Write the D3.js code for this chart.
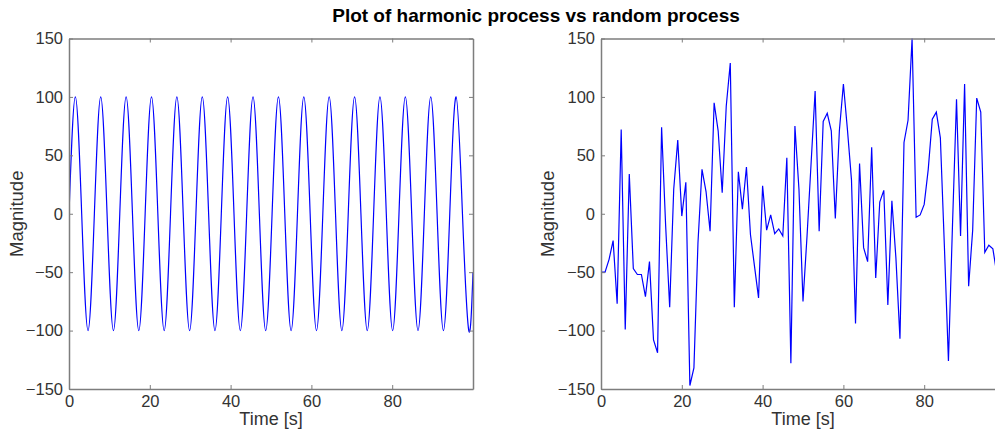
<!DOCTYPE html>
<html>
<head>
<meta charset="utf-8">
<script src="https://cdn.jsdelivr.net/npm/d3@7"></script>
<style>
body { margin:0; background:#fff; }
text { font-family: "Liberation Sans", Arial, Helvetica, sans-serif; }
.axis path, .axis line { stroke:#7d7d7d; }
.axis text { fill:#333; font-size:16.5px; }
</style>
</head>
<body>
<div id="chart"></div>
<script>
// harmonic process: zero crossings and peaks
var harmonicTime = [0, 1.57, 3.14, 4.71, 6.28, 7.85, 9.42, 11.0, 12.57, 14.14, 15.71, 17.28,
	18.85, 20.42, 21.99, 23.56, 25.13, 26.7, 28.27, 29.85, 31.42, 32.99, 34.56, 36.13,
	37.7, 39.27, 40.84, 42.41, 43.98, 45.55, 47.12, 48.69, 50.27, 51.84, 53.41, 54.98,
	56.55, 58.12, 59.69, 61.26, 62.83, 64.4, 65.97, 67.54, 69.12, 70.69, 72.26, 73.83,
	75.4, 76.97, 78.54, 80.11, 81.68, 83.25, 84.82, 86.39, 87.96, 89.54, 91.11, 92.68,
	94.25, 95.82, 97.39, 98.96, 100];
var harmonicValue = [0, 100, 0, -100, 0, 100, 0, -100, 0, 100, 0, -100,
	0, 100, 0, -100, 0, 100, 0, -100, 0, 100, 0, -100,
	0, 100, 0, -100, 0, 100, 0, -100, 0, 100, 0, -100,
	0, 100, 0, -100, 0, 100, 0, -100, 0, 100, 0, -100,
	0, 100, 0, -100, 0, 100, 0, -100, 0, 100, 0, -100,
	0, 100, 0, -100, -50];

// random process, one sample per second
var randomValue = [-50, -50, -39, -23, -77, 72, -99, 34, -47, -52,
	-52, -71, -41, -108, -119, 74, -10, -80, 21, 63,
	-2, 27, -147, -132, -25, 38, 19, -15, 95, 71,
	18, 92, 129, -80, 36, 4, 40, -18, -45, -72,
	24, -14, -1, -17, -13, -19, 48, -128, 75, 21,
	-75, -19, 43, 105, -15, 79, 86, 71, -4, 71,
	111, 72, 29, -94, 43, -29, -41, 57, -55, 10,
	20, -78, 11, -38, -107, 61, 80, 150, -3, -1,
	8, 38, 81, 87, 65, -28, -126, -10, 98, -19,
	111, -62, -14, 99, 87, -33, -27, -30, -52, -65];

var xTicks = [0, 20, 40, 60, 80];
var yTicks = [-150, -100, -50, 0, 50, 100, 150];

var width = 995, height = 435;
var top_ = 38.5, bottom = 389;

var svg = d3.select("#chart").append("svg")
	.attr("width", width)
	.attr("height", height);

svg.append("text")
	.attr("x", 536)
	.attr("y", 22)
	.attr("text-anchor", "middle")
	.style("font-size", "19px")
	.style("font-weight", "bold")
	.attr("fill", "#000")
	.text("Plot of harmonic process vs random process");

var y = d3.scaleLinear().domain([-150, 150]).range([bottom, top_]);

function panel(left, right, pts, curve, clipId, labelX) {
	var x = d3.scaleLinear().domain([0, 100]).range([left, right]);

	svg.append("clipPath").attr("id", clipId)
		.append("rect")
		.attr("x", left).attr("y", top_ - 1)
		.attr("width", right - left).attr("height", bottom - top_ + 2);

	var line = d3.line()
		.x(function(d){ return x(d[0]); })
		.y(function(d){ return y(d[1]); })
		.curve(curve);

	svg.append("path")
		.datum(pts)
		.attr("clip-path", "url(#" + clipId + ")")
		.attr("fill", "none")
		.attr("stroke", "#0000ff")
		.attr("stroke-width", 1.2)
		.attr("d", line);

	svg.append("g").attr("class", "axis")
		.attr("transform", "translate(0," + bottom + ")")
		.call(d3.axisBottom(x).tickValues(xTicks).tickSizeInner(-4).tickSizeOuter(0).tickPadding(6))
		.call(function(g){ g.selectAll("path").attr("stroke-width", 1.5); g.selectAll("text").attr("font-family", null); });

	svg.append("g").attr("class", "axis")
		.attr("transform", "translate(0," + top_ + ")")
		.call(d3.axisTop(x).tickValues(xTicks).tickSizeInner(-4).tickSizeOuter(0).tickFormat(""))
		.call(function(g){ g.selectAll("path").attr("stroke-width", 1.5); });

	svg.append("g").attr("class", "axis")
		.attr("transform", "translate(" + left + ",0)")
		.call(d3.axisLeft(y).tickValues(yTicks).tickSizeInner(-4).tickSizeOuter(0).tickPadding(6))
		.call(function(g){ g.selectAll("path").attr("stroke-width", 1.5); g.selectAll("text").attr("font-family", null); });

	svg.append("g").attr("class", "axis")
		.attr("transform", "translate(" + right + ",0)")
		.call(d3.axisRight(y).tickValues(yTicks).tickSizeInner(-4).tickSizeOuter(0).tickFormat(""))
		.call(function(g){ g.selectAll("path").attr("stroke-width", 1.5); });

	svg.append("text")
		.attr("x", (left + right) / 2)
		.attr("y", 425)
		.attr("text-anchor", "middle")
		.attr("fill", "#333")
		.style("font-size", "18px")
		.text("Time [s]");

	svg.append("text")
		.attr("transform", "translate(" + labelX + "," + (top_ + bottom) / 2 + ") rotate(-90)")
		.attr("text-anchor", "middle")
		.attr("fill", "#333")
		.style("font-size", "18.5px")
		.text("Magnitude");
}

var harmonicPts = harmonicTime.map(function(t, i){ return [t, harmonicValue[i]]; });
var randomPts = randomValue.map(function(v, i){ return [i, v]; });

panel(69, 473, harmonicPts, d3.curveNatural, "clipL", 23);
panel(601, 1005, randomPts, d3.curveLinear, "clipR", 554);
</script>
</body>
</html>
